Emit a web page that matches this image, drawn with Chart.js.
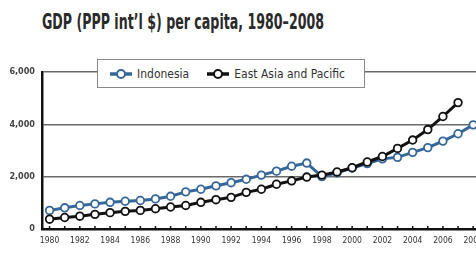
<!DOCTYPE html>
<html>
<head>
<meta charset="utf-8">
<script src="https://cdn.jsdelivr.net/npm/chart.js@4/dist/chart.umd.min.js"></script>
<style>
  html, body { margin: 0; padding: 0; background: #fff; width: 476px; height: 253px; overflow: hidden; }
  #wrap { position: relative; width: 476px; height: 253px; overflow: hidden; }
  #title { position: absolute; left: 42px; top: 9px; font-family: "DejaVu Sans Condensed", "DejaVu Sans", sans-serif; font-weight: bold; font-size: 21px; line-height: 26px; color: #2a2a2a; white-space: nowrap; transform-origin: 0 0; }
  #cv { position: absolute; left: 0; top: 0; }
  #legend { position: absolute; left: 97px; top: 59px; width: 268px; height: 29px; background: #fff; border: 1.5px solid #8a8a8a; box-sizing: border-box; font-family: "DejaVu Sans Condensed", "DejaVu Sans", sans-serif; font-size: 12px; color: #333; display: flex; align-items: center; }
  .item { display: flex; align-items: center; margin-left: 12px; }
  .item + .item { margin-left: 18px; }
  .item svg { margin-right: 5px; }
</style>
</head>
<body>
<div id="wrap">
  <div id="title">GDP (PPP int’l $) per capita, 1980–2008</div>
  <canvas id="cv" width="490" height="253"></canvas>
  <div id="legend"></div>
</div>
<script>
const years = ['1980','1981','1982','1983','1984','1985','1986','1987','1988','1989','1990','1991','1992','1993','1994','1995','1996','1997','1998','1999','2000','2001','2002','2003','2004','2005','2006','2007','2008'];
const indonesia = [710, 810, 900, 960, 1020, 1060, 1090, 1150, 1250, 1420, 1520, 1650, 1770, 1900, 2060, 2210, 2400, 2520, 2000, 2150, 2330, 2500, 2680, 2740, 2930, 3110, 3360, 3640, 3980];
const eastAsia = [375, 440, 490, 560, 625, 675, 710, 775, 840, 900, 1020, 1120, 1210, 1400, 1520, 1710, 1840, 1985, 2060, 2180, 2340, 2560, 2770, 3080, 3400, 3800, 4300, 4830, null];
const yTicks = [0, 2000, 4000, 6000];
const seriesNames = ['Indonesia', 'East Asia and Pacific'];
const seriesColors = ['#35679a', '#111111'];

const fontFam = '"DejaVu Sans Condensed", "DejaVu Sans", sans-serif';

// title: condensed to the reference width
const t = document.getElementById('title');
const tw = t.getBoundingClientRect().width;
t.style.transform = 'scaleX(' + (282 / tw) + ')';

// legend (HTML)
const lg = document.getElementById('legend');
seriesNames.forEach((n, i) => {
  const d = document.createElement('div');
  d.className = 'item';
  d.innerHTML = '<svg width="22" height="12"><line x1="0" y1="6" x2="22" y2="6" stroke="' + seriesColors[i] + '" stroke-width="3.5"/><circle cx="11" cy="6" r="4" fill="#fff" stroke="' + seriesColors[i] + '" stroke-width="2"/></svg><span>' + n + '</span>';
  lg.appendChild(d);
});

const upTicks = {
  id: 'upTicks',
  afterDatasetsDraw(chart) {
    const x = chart.scales.x, ctx = chart.ctx, b = chart.chartArea.bottom;
    ctx.save();
    ctx.strokeStyle = '#111';
    ctx.lineWidth = 1.5;
    years.forEach((y, i) => {
      const px = x.getPixelForValue(i);
      ctx.beginPath(); ctx.moveTo(px, b); ctx.lineTo(px, b - 3); ctx.stroke();
    });
    ctx.restore();
  }
};

new Chart(document.getElementById('cv'), {
  type: 'line',
  data: {
    labels: years,
    datasets: [
      { label: seriesNames[1], data: eastAsia, borderColor: seriesColors[1], borderWidth: 3,
        pointRadius: 3.8, pointBorderWidth: 1.8, pointBackgroundColor: '#fff', pointBorderColor: seriesColors[1], tension: 0 },
      { label: seriesNames[0], data: indonesia, borderColor: seriesColors[0], borderWidth: 3,
        pointRadius: 3.8, pointBorderWidth: 1.8, pointBackgroundColor: '#fff', pointBorderColor: seriesColors[0], tension: 0 }
    ]
  },
  options: {
    responsive: false,
    animation: false,
    devicePixelRatio: 1,
    layout: { padding: { top: 72, right: 4, left: 0, bottom: 0 } },
    plugins: { legend: { display: false }, title: { display: false }, tooltip: { enabled: false } },
    scales: {
      x: {
        type: 'category',
        offset: true,
        grid: { display: false, drawTicks: false },
        border: { display: true, color: '#111', width: 2.5 },
        ticks: {
          autoSkip: false, maxRotation: 0, padding: 7,
          font: { family: fontFam, size: 8.5 }, color: '#333',
          callback: function(v, i) { return i % 2 === 0 ? years[i] : ''; }
        },
        afterFit: s => { s.height = 24; }
      },
      y: {
        min: 0, max: 6000,
        afterBuildTicks: s => { s.ticks = yTicks.map(v => ({ value: v })); },
        grid: { color: '#6a6a6a', lineWidth: c => c.tick && c.tick.value === 0 ? 0 : 1.6, drawTicks: false },
        border: { display: true, color: '#111', width: 2.5 },
        ticks: {
          padding: 7,
          font: { family: fontFam, size: 9, weight: 'bold' }, color: '#444',
          callback: v => v.toLocaleString('en-US')
        },
        afterFit: s => { s.width = 42; }
      }
    }
  },
  plugins: [upTicks]
});
</script>
</body>
</html>
